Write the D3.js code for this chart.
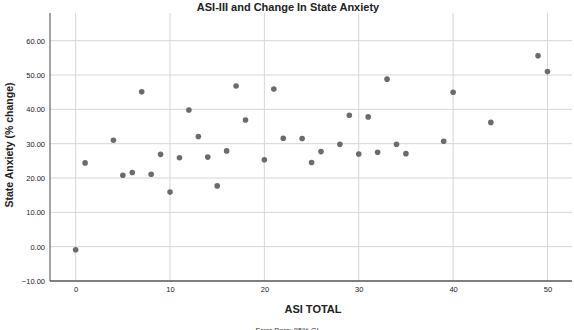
<!DOCTYPE html>
<html>
<head>
<meta charset="utf-8">
<script src="https://cdn.jsdelivr.net/npm/d3@7"></script>
<style>
  html, body { margin: 0; padding: 0; background: #fff; }
  svg { display: block; font-family: "Liberation Sans", Arial, sans-serif; }
</style>
</head>
<body>
<div id="chart"></div>
<script>
// ASI-III total vs % change in state anxiety
var asiTotal = [0, 1, 4, 5, 6, 7, 8, 9, 10, 11, 12, 13, 14, 15, 16, 17, 18, 20, 21, 22,
  24, 25, 26, 28, 29, 30, 31, 32, 33, 34, 35, 39, 40, 44, 49, 50];
var anxietyChange = [-0.9, 24.4, 31.0, 20.8, 21.6, 45.1, 21.1, 26.9, 15.9, 25.9, 39.8, 32.1, 26.1, 17.7, 27.9, 46.8, 36.9, 25.3, 45.9, 31.6,
  31.5, 24.5, 27.7, 29.8, 38.3, 27.0, 37.8, 27.5, 48.8, 29.8, 27.1, 30.7, 45.0, 36.2, 55.6, 51.0];
var xTicks = [0, 10, 20, 30, 40, 50];
var yTicks = [-10, 0, 10, 20, 30, 40, 50, 60];

(function() {
  'use strict';

  var width = 574, height = 330;
  var left = 50, right = 572, top = 13, bottom = 281;

  var svg = d3.select('#chart').append('svg').attr('width', width).attr('height', height);

  var x = d3.scaleLinear().domain([-2.72, 52.6]).range([left, right]);
  var y = d3.scaleLinear().domain([-10, 68.07]).range([bottom, top]);

  var g = svg.append('g');

  // grid
  g.selectAll('.hgrid').data(yTicks.filter(function(d) { return d > -10; })).enter().append('line')
    .attr('x1', left).attr('x2', right)
    .attr('y1', function(d) { return y(d); }).attr('y2', function(d) { return y(d); })
    .attr('stroke', '#d6d6d6').attr('stroke-width', 1);
  g.selectAll('.vgrid').data(xTicks).enter().append('line')
    .attr('x1', function(d) { return x(d); }).attr('x2', function(d) { return x(d); })
    .attr('y1', top).attr('y2', bottom)
    .attr('stroke', '#d6d6d6').attr('stroke-width', 1);

  // axes
  var yAxis = d3.axisLeft(y).tickValues(yTicks).tickSize(0).tickPadding(5)
    .tickFormat(function(d) { return d3.format('.2f')(d); });
  var yG = svg.append('g').attr('transform', 'translate(' + left + ',0)').call(yAxis);
  yG.select('.domain').attr('stroke', '#666').attr('stroke-width', 1.2).attr('d', 'M0,' + top + 'V' + bottom);
  yG.selectAll('text').attr('font-size', '7.5px').attr('fill', '#222').attr('font-family', null);

  var xAxis = d3.axisBottom(x).tickValues(xTicks).tickSize(0).tickPadding(6);
  var xG = svg.append('g').attr('transform', 'translate(0,' + bottom + ')').call(xAxis);
  xG.select('.domain').attr('stroke', '#555').attr('stroke-width', 1.5).attr('d', 'M' + left + ',0H' + right);
  xG.selectAll('text').attr('font-size', '7.5px').attr('fill', '#222').attr('font-family', null);

  // points
  var pts = asiTotal.map(function(v, i) { return { x: v, y: anxietyChange[i] }; });
  svg.append('g').selectAll('circle').data(pts).enter().append('circle')
    .attr('cx', function(d) { return x(d.x); })
    .attr('cy', function(d) { return y(d.y); })
    .attr('r', 2.8)
    .attr('fill', '#6b6b6b');

  // titles
  svg.append('text').attr('x', 288).attr('y', 11).attr('text-anchor', 'middle')
    .attr('font-size', '11px').attr('font-weight', 'bold').attr('fill', '#222')
    .text('ASI-III and Change In State Anxiety');

  svg.append('text').attr('transform', 'translate(13,145) rotate(-90)').attr('text-anchor', 'middle')
    .attr('font-size', '10.5px').attr('font-weight', 'bold').attr('fill', '#222')
    .text('State Anxiety (% change)');

  svg.append('text').attr('x', 313).attr('y', 313).attr('text-anchor', 'middle')
    .attr('font-size', '11px').attr('font-weight', 'bold').attr('fill', '#222')
    .text('ASI TOTAL');

  svg.append('text').attr('x', 287).attr('y', 333).attr('text-anchor', 'middle')
    .attr('font-size', '7.5px').attr('fill', '#333')
    .text('Error Bars: 95% CI');
})();
</script>
</body>
</html>
